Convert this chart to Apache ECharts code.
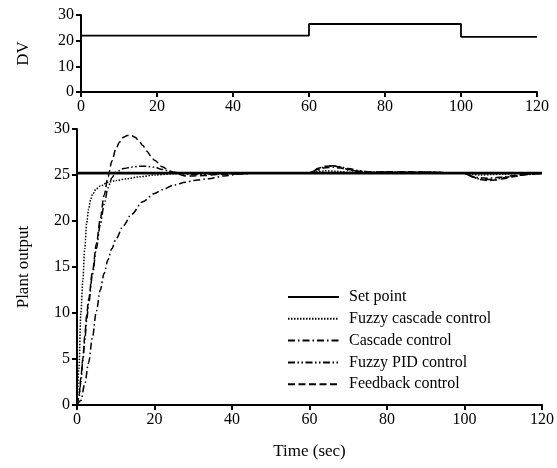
<!DOCTYPE html>
<html>
<head>
<meta charset="utf-8">
<script src="https://cdn.jsdelivr.net/npm/echarts@6/dist/echarts.min.js"></script>
<style>html,body{margin:0;padding:0;background:#fff}#c{width:557px;height:468px}</style>
</head>
<body>
<div id="c"></div>
<script>
// ---- Data ----
var xTicks = [0, 20, 40, 60, 80, 100, 120];
var dvTimes = [0, 60, 100, 120];
var dvValues = [22, 26.5, 21.5, 21.5];

var setTimes = [0, 120];
var setValues = [25.2, 25.2];

var fuzzyCascadeTimes = [0,0.5,1,1.5,2,2.5,3,3.5,4,5,6,8,10,13,16,20,25,30,40,50,60,62,64,67,70,75,80,90,100,102,104,107,110,115,120];
var fuzzyCascadeValues = [0,4,10,13.5,17,19.8,21.3,22.3,22.9,23.5,23.8,24.2,24.4,24.6,24.8,25.0,25.15,25.2,25.2,25.2,25.2,25.35,25.45,25.4,25.3,25.3,25.3,25.3,25.2,25.05,25.0,25.05,25.1,25.2,25.2];

var cascadeTimes = [0,1,2,3,4,5,6,7,8,9,10,12,14,17,20,22,25,28,30,34,38,42,46,50,60,62,64,66,68,70,73,76,80,90,100,101,102,104,106,108,110,113,116,120];
var cascadeValues = [0,0.5,2.3,4.6,7.4,10.2,12.5,14.3,15.8,17.0,18.0,19.5,20.7,22.1,23.0,23.4,23.9,24.2,24.4,24.6,24.9,25.1,25.2,25.25,25.25,25.5,25.8,25.85,25.75,25.55,25.4,25.3,25.3,25.3,25.2,25.0,24.85,24.7,24.65,24.7,24.8,24.95,25.1,25.2];

var fuzzyPidTimes = [0,0.5,1,1.5,2,2.5,3,4,5,6,7,8,9,10,12,14,16,18,20,22,24,26,28,30,35,40,50,60,61,62,64,66,68,70,73,76,80,90,100,101,102,104,106,108,110,113,116,120];
var fuzzyPidValues = [0,0.8,2.5,4.8,7,9.2,11,14.2,17,19.6,21.8,23.6,24.7,25.3,25.7,25.85,25.95,25.95,25.85,25.6,25.4,25.25,25.1,25.05,25.1,25.2,25.2,25.2,25.4,25.6,25.9,26.0,25.9,25.7,25.45,25.3,25.3,25.3,25.2,25.0,24.8,24.55,24.5,24.55,24.7,24.9,25.05,25.2];

var feedbackTimes = [0,0.5,1,1.5,2,2.5,3,4,5,6,7,8,9,10,11,12,13,14,15,16,17,18,19,20,22,24,26,28,30,33,36,40,45,50,60,61,62,64,66,68,70,73,76,80,85,90,95,100,101,102,104,106,108,110,113,116,120];
var feedbackValues = [0,1,3,5,7.5,9.8,11.5,14.5,17.5,20.2,22.8,24.8,26.5,27.8,28.6,29.1,29.3,29.3,29.1,28.7,28.2,27.6,27.1,26.6,25.9,25.4,25.1,24.9,24.9,24.95,25.05,25.1,25.2,25.2,25.2,25.4,25.7,25.95,26.0,25.85,25.6,25.4,25.3,25.35,25.35,25.3,25.25,25.2,25.0,24.8,24.5,24.4,24.45,24.6,24.85,25.05,25.2];

function pairs(t, v) { return t.map(function (x, i) { return [x, v[i]]; }); }

var FONT = 'Liberation Serif';
var txt = { color: '#000', fontFamily: FONT, fontSize: 16 };

function xAx(gi) {
  return {
    type: 'value', gridIndex: gi, min: 0, max: 120, interval: 20,
    axisLine: { lineStyle: { color: '#000', width: 2 } },
    axisTick: { show: true, inside: false, length: 5, lineStyle: { color: '#000', width: 2 } },
    axisLabel: Object.assign({ margin: 7 }, txt),
    splitLine: { show: false }
  };
}
function yAx(gi, max, interval, name, gap) {
  return {
    type: 'value', gridIndex: gi, min: 0, max: max, interval: interval,
    name: name, nameLocation: 'middle', nameGap: gap, nameRotate: 90,
    nameTextStyle: { color: '#000', fontFamily: FONT, fontSize: 17 },
    axisLine: { show: true, lineStyle: { color: '#000', width: 2 } },
    axisTick: { show: true, inside: false, length: 5, lineStyle: { color: '#000', width: 2 } },
    axisLabel: Object.assign({ margin: 7 }, txt),
    splitLine: { show: false }
  };
}

var xb = xAx(1);
xb.name = 'Time (sec)';
xb.nameLocation = 'middle';
xb.nameGap = 38;
xb.nameTextStyle = { color: '#000', fontFamily: FONT, fontSize: 17 };

function line(name, t, v, width, dash) {
  return {
    name: name, type: 'line', xAxisIndex: 1, yAxisIndex: 1,
    data: pairs(t, v), symbol: 'none', showSymbol: false,
    smooth: 0.3, smoothMonotone: 'x',
    lineStyle: { color: '#000', width: width, type: dash },
    itemStyle: { color: '#000' },
    animation: false
  };
}

var chart = echarts.init(document.getElementById('c'), null, { renderer: 'canvas' });
chart.setOption({
  animation: false,
  backgroundColor: '#fff',
  grid: [
    { left: 81, top: 15, width: 456, height: 77 },
    { left: 77, top: 129, width: 466, height: 276 }
  ],
  xAxis: [xAx(0), xb],
  yAxis: [yAx(0, 30, 10, 'DV', 49), yAx(1, 30, 5, 'Plant output', 45)],
  legend: {
    orient: 'vertical', left: 287, top: 289, padding: 0,
    itemWidth: 51, itemHeight: 12, itemGap: 5.8,
    itemStyle: { color: 'rgba(0,0,0,0)', borderColor: 'rgba(0,0,0,0)', borderWidth: 0 },
    textStyle: { color: '#000', fontFamily: FONT, fontSize: 16, lineHeight: 16, padding: [0, 0, 0, 5] },
    data: ['Set point', 'Fuzzy cascade control', 'Cascade control', 'Fuzzy PID control', 'Feedback control']
  },
  series: [
    {
      name: 'DV', type: 'line', xAxisIndex: 0, yAxisIndex: 0,
      data: pairs(dvTimes, dvValues), step: 'end', symbol: 'none',
      lineStyle: { color: '#000', width: 1.8 }, animation: false
    },
    line('Set point', setTimes, setValues, 2.6, 'solid'),
    line('Fuzzy cascade control', fuzzyCascadeTimes, fuzzyCascadeValues, 1.5, [1.5, 1.5]),
    line('Cascade control', cascadeTimes, cascadeValues, 1.5, [7, 3, 1.5, 3]),
    line('Fuzzy PID control', fuzzyPidTimes, fuzzyPidValues, 1.5, [7, 2.5, 1.5, 2.5, 1.5, 2.5]),
    line('Feedback control', feedbackTimes, feedbackValues, 1.5, [7, 3.5])
  ]
});
</script>
</body>
</html>
